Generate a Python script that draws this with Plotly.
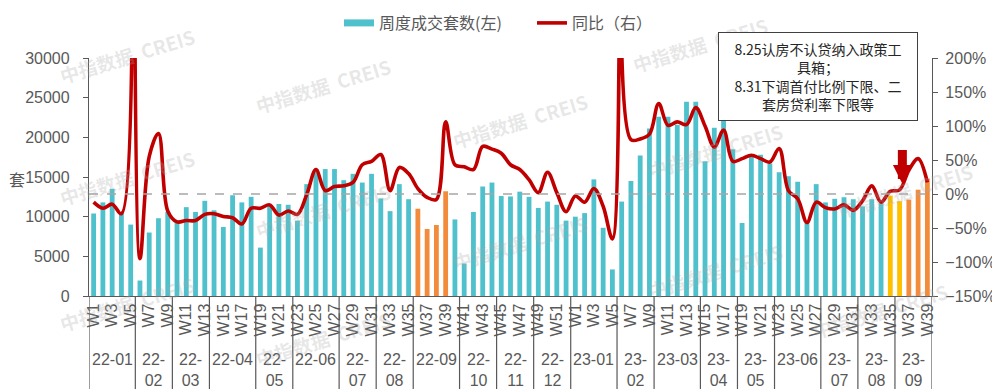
import plotly.graph_objects as go

# ---------------- data ----------------
months = ["22-01", "22-02", "22-03", "22-04", "22-05", "22-06", "22-07", "22-08",
          "22-09", "22-10", "22-11", "22-12", "23-01", "23-02", "23-03", "23-04",
          "23-05", "23-06", "23-07", "23-08", "23-09"]
weeks_in_month = [5, 4, 4, 5, 4, 5, 4, 4, 5, 4, 4, 4, 5, 4, 5, 4, 4, 5, 4, 4, 4]

week_labels = [f"W{n}" for n in range(1, 53)] + [f"W{n}" for n in range(1, 40)]

sales_2022 = [10400, 11800, 13500, 10500, 9000, 1950, 8000, 9800, 10600, 9500,
              11200, 10600, 12000, 10800, 8700, 12700, 11800, 12500, 6100, 11500,
              11600, 11500, 9500, 14100, 16000, 16000, 16000, 14600, 15400, 14300,
              15400, 12300, 10700, 14100, 12200, 11000, 8450, 8950, 13200, 9650,
              4100, 10600, 13800, 14300, 12600, 12550, 13150, 12500, 11100, 11900,
              11500, 9500]
sales_2023 = [10000, 10450, 14700, 8600, 3350, 11900, 14500, 17700, 21100, 22600,
              22600, 21600, 24500, 24500, 17000, 21200, 22100, 18500, 9200, 17800,
              17800, 16700, 15600, 15100, 14400, 9300, 14100, 11800, 12250, 12450,
              12200, 11300, 12200, 11700, 12650, 11950, 12150, 13400, 14800]

yoy_2022 = [-12, -21, -15, -29, 1000, -95, 55, 89, -25, -41,
            -39, -39, -30, -29, -33, -35, -44, -21, -21, -16,
            -31, -25, -30, -1, 36, 5, 11, 12, 17, 43,
            48, 58, 5, 39, 30, 8, -5, -8, 106, 43,
            40, 36, 70, 66, 60, 43, 36, 21, 2, 32,
            2, -26]
yoy_2023 = [-3, -12, 8, -18, -66, 650, 80, 81, 88, 133,
            101, 106, 102, 127, 100, 69, 94, 48, 52, 57,
            52, 47, 67, 5, -7, -42, -12, -20, -22, -16,
            -24, -10, 12, -12, 4, 6, 35, 52, 17]

orange_weeks_2022 = [36, 37, 38, 39]
yellow_weeks_2023 = [35, 36]
orange_weeks_2023 = [37, 38, 39]

legend_bar = "周度成交套数(左)"
legend_line = "同比（右）"
y_title = "套"
note_text = "8.25认房不认贷纳入政策工<br>具箱；<br>8.31下调首付比例下限、二<br>套房贷利率下限等"
watermark = "中指数据  CREIS"

# ---------------- styling ----------------
TEAL = "#4FC1CC"
ORANGE = "#F28C3C"
YELLOW = "#FFC000"
RED = "#C00000"
GREY = "#595959"

OFF = 8                      # page body margin of the browser
W, H = 1000 - OFF, 392 - OFF
ML, MR, MT, MB = 89 - OFF, 68, 58 - OFF, 96
PW, PH = W - ML - MR, H - MT - MB


def px(x):
    """screen x pixel -> paper"""
    return (x - OFF - ML) / PW


def py(y):
    """screen y pixel -> paper"""
    return (H - MB - (y - OFF)) / PH


sales = sales_2022 + sales_2023
yoy = yoy_2022 + yoy_2023
idx = list(range(len(sales)))

colors = []
for i in range(len(sales_2022)):
    colors.append(ORANGE if (i + 1) in orange_weeks_2022 else TEAL)
for i in range(len(sales_2023)):
    w = i + 1
    colors.append(YELLOW if w in yellow_weeks_2023 else ORANGE if w in orange_weeks_2023 else TEAL)

fig = go.Figure()
fig.add_trace(go.Bar(x=idx, y=sales, marker=dict(color=colors, line=dict(width=0)),
                     width=0.52, showlegend=False, name=legend_bar))
fig.add_trace(go.Scatter(x=[None], y=[None], mode="lines", name=legend_bar,
                         line=dict(color=TEAL, width=7)))
fig.add_trace(go.Scatter(x=idx, y=yoy, yaxis="y2", mode="lines", name=legend_line,
                         line=dict(color=RED, width=3.6, shape="spline", smoothing=1)))

shapes = []
shapes.append(dict(type="line", xref="paper", x0=0, x1=1, yref="y2", y0=0, y1=0,
                   line=dict(color="#A6A6A6", width=1.5, dash="dash"), layer="above"))
annotations = []
start = 0
bounds = [-0.5]
for m, n in zip(months, weeks_in_month):
    center = start + (n - 1) / 2
    text = m if n >= 5 else m.replace("-", "-<br>")
    annotations.append(dict(x=center, xref="x", y=py(349), yref="paper", text=text,
                            showarrow=False, yanchor="top", xanchor="center",
                            font=dict(size=16, color=GREY, family="Liberation Sans")))
    start += n
    bounds.append(start - 0.5)
for b in bounds:
    shapes.append(dict(type="line", xref="x", x0=b, x1=b, yref="paper", y0=0, y1=py(389),
                       line=dict(color=GREY, width=1.2)))

annotations.append(dict(x=px(17), y=py(179), xref="paper", yref="paper", text=y_title,
                        showarrow=False, xanchor="center", yanchor="middle",
                        font=dict(size=16, color=GREY, family="Noto Sans CJK SC")))

wm_centers = [(127, 55), (127, 177), (127, 303), (323, 85), (323, 210), (323, 338),
              (520, 120), (520, 242), (700, 44), (715, 150), (715, 270),
              (905, 190), (880, 310)]
for cx, cy in wm_centers:
    annotations.append(dict(x=px(cx), y=py(cy), xref="paper", yref="paper", text=watermark,
                            showarrow=False, textangle=-17, xanchor="center", yanchor="middle",
                            font=dict(size=19, color="rgba(170,170,170,0.28)",
                                      family="Noto Sans CJK SC", weight="bold")))

annotations.append(dict(x=px(818), y=py(76.5), xref="paper", yref="paper", text=note_text,
                        showarrow=False, align="center", valign="middle",
                        xanchor="center", yanchor="middle",
                        width=198, height=87, borderpad=0,
                        bordercolor="#404040", borderwidth=1, bgcolor="white",
                        font=dict(size=14, color="#262626", family="Noto Sans CJK SC")))
annotations.append(dict(x=87.3, y=15, xref="x", yref="y2", ax=87.3, ay=67, axref="x", ayref="y2",
                        text="", showarrow=True, arrowhead=2, arrowwidth=9, arrowsize=0.42,
                        arrowcolor=RED))

fig.update_layout(
    width=W, height=H,
    margin=dict(l=ML, r=MR, t=MT, b=MB, autoexpand=False),
    plot_bgcolor="white", paper_bgcolor="white",
    font=dict(family="Liberation Sans, Noto Sans CJK SC", color=GREY),
    bargap=0.45,
    showlegend=True,
    legend=dict(orientation="h", x=px(339), y=py(23), xanchor="left", yanchor="middle",
                font=dict(size=16, color=GREY, family="Noto Sans CJK SC"),
                bgcolor="rgba(0,0,0,0)", itemwidth=30,
                entrywidth=148, entrywidthmode="pixels"),
    xaxis=dict(range=[-0.5, len(sales) - 0.5], tickmode="array",
               tickvals=idx[::2], ticktext=week_labels[::2], tickangle=-90,
               showline=True, linecolor=GREY, linewidth=1.3, ticks="", showgrid=False,
               zeroline=False, tickfont=dict(size=16, color=GREY, family="Liberation Sans")),
    yaxis=dict(range=[0, 30000], dtick=5000, tickformat="d", showline=True, linecolor=GREY,
               linewidth=1.3, ticks="outside", ticklen=5, tickcolor=GREY, showgrid=False,
               zeroline=False, ticklabelstandoff=10,
               tickfont=dict(size=16, color=GREY, family="Liberation Sans")),
    yaxis2=dict(range=[-150, 200], dtick=50, ticksuffix="%", overlaying="y", side="right",
                showline=True, linecolor=GREY, linewidth=1.3, ticks="outside", ticklen=5,
                tickcolor=GREY, showgrid=False, zeroline=False, ticklabelstandoff=4,
                tickfont=dict(size=16, color=GREY, family="Liberation Sans")),
    shapes=shapes,
    annotations=annotations,
)

fig.write_html("out.html")
